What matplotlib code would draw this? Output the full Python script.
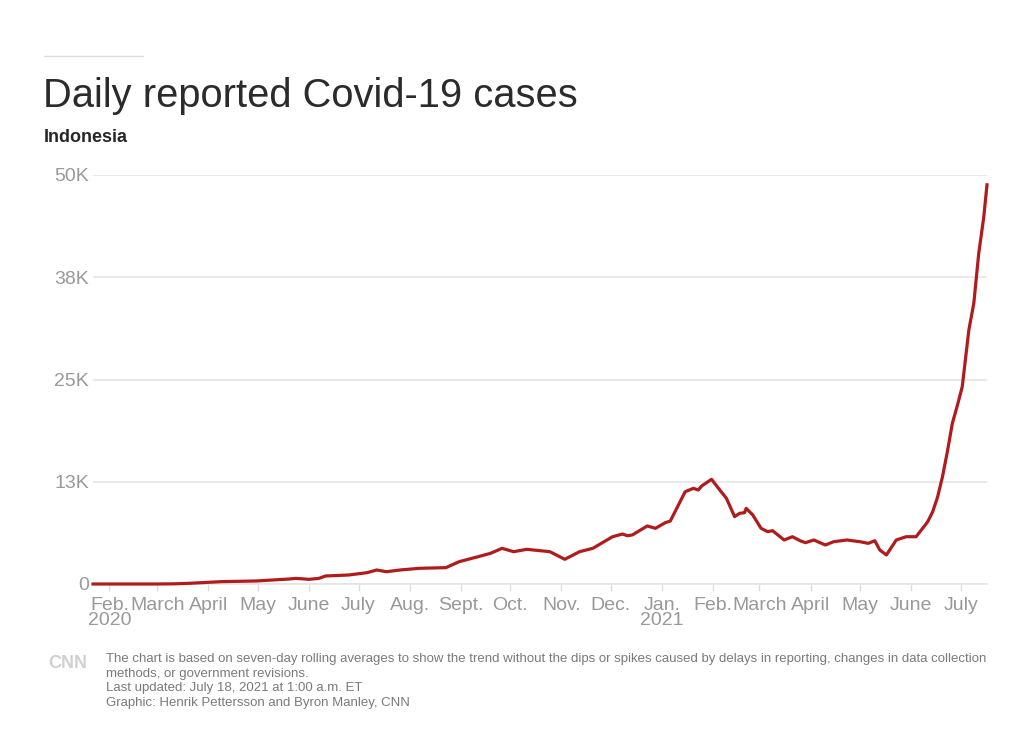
import matplotlib
matplotlib.use("Agg")
import matplotlib.pyplot as plt
import pandas as pd

# 7-day average of daily cases
dates = ["2020-01-22", "2020-02-29", "2020-03-11", "2020-03-20", "2020-04-09",
         "2020-04-30", "2020-05-20", "2020-05-24", "2020-06-01", "2020-06-07",
         "2020-06-11", "2020-06-25", "2020-07-06", "2020-07-12", "2020-07-18",
         "2020-07-26", "2020-08-07", "2020-08-23", "2020-08-31", "2020-09-13",
         "2020-09-19", "2020-09-26", "2020-10-03", "2020-10-11", "2020-10-25",
         "2020-11-03", "2020-11-12", "2020-11-20", "2020-12-02", "2020-12-08",
         "2020-12-11", "2020-12-14", "2020-12-23", "2020-12-28", "2021-01-03",
         "2021-01-06", "2021-01-15", "2021-01-20", "2021-01-23", "2021-01-25",
         "2021-01-31", "2021-02-05", "2021-02-09", "2021-02-14", "2021-02-17",
         "2021-02-20", "2021-02-21", "2021-02-25", "2021-03-02", "2021-03-06",
         "2021-03-09", "2021-03-16", "2021-03-21", "2021-03-26", "2021-03-29",
         "2021-04-03", "2021-04-10", "2021-04-15", "2021-04-23", "2021-05-01",
         "2021-05-06", "2021-05-10", "2021-05-13", "2021-05-17", "2021-05-23",
         "2021-05-29", "2021-06-04", "2021-06-08", "2021-06-11", "2021-06-14",
         "2021-06-17", "2021-06-20", "2021-06-23", "2021-06-26", "2021-06-29",
         "2021-07-02", "2021-07-06", "2021-07-09", "2021-07-12", "2021-07-15",
         "2021-07-17"]
cases = [0, 0, 20, 80, 290,
         370, 610, 690, 570, 690,
         980, 1100, 1380, 1710, 1500,
         1710, 1920, 2000, 2730, 3420,
         3750, 4360, 3950, 4240, 3950,
         3020, 3950, 4360, 5780, 6110,
         5900, 6000, 7090, 6810, 7500,
         7700, 11280, 11700, 11490, 11980,
         12800, 11490, 10480, 8230, 8640,
         8720, 9250, 8435, 6810, 6400,
         6520, 5380, 5780, 5260, 5050,
         5380, 4770, 5170, 5380, 5170,
         4970, 5290, 4160, 3550, 5380,
         5780, 5780, 6810, 7600, 8800,
         10600, 13100, 16200, 19650, 21800,
         24130, 31050, 34320, 40430, 44800,
         48800]

y_ticks = [0, 12500, 25000, 37500, 50000]
y_labels = ["0", "13K", "25K", "38K", "50K"]
month_labels = ["Feb.\n2020", "March", "April", "May", "June", "July", "Aug.",
                "Sept.", "Oct.", "Nov.", "Dec.", "Jan.\n2021", "Feb.", "March",
                "April", "May", "June", "July"]

plt.rcParams['font.family'] = ['Liberation Sans', 'DejaVu Sans']

fig = plt.figure(figsize=(10.25, 7.42), dpi=100)
ax = fig.add_axes([93 / 1025, 1 - 584 / 742, (987 - 93) / 1025, (584 - 175) / 742])

x = pd.to_datetime(dates)
ax.plot(x, cases, color='#b01c1c', linewidth=2.3, clip_on=False, zorder=3,
        solid_joinstyle='round')

ax.set_xlim(pd.Timestamp("2020-01-22"), pd.Timestamp("2021-07-17"))
ax.set_ylim(0, 50000)

ax.set_yticks(y_ticks)
ax.set_yticklabels(y_labels)
ax.grid(axis='y', color='#e3e3e3', linewidth=1.1)
ax.set_axisbelow(True)

month_ticks = pd.date_range("2020-02-01", "2021-07-01", freq="MS")
ax.set_xticks(month_ticks)
ax.set_xticklabels(month_labels, linespacing=0.85)

ax.tick_params(axis='y', length=0, pad=3, labelsize=14, labelcolor='#999999')
ax.tick_params(axis='x', length=5, width=1, color='#dddddd', pad=4,
               labelsize=14, labelcolor='#999999')

for s in ['top', 'right', 'left']:
    ax.spines[s].set_visible(False)
ax.spines['bottom'].set_color('#e3e3e3')
ax.spines['bottom'].set_linewidth(1.1)

# header
fig.add_artist(plt.Line2D([44 / 1025, 143 / 1025], [1 - 56 / 742, 1 - 56 / 742],
                          color='#dddddd', linewidth=1))
fig.text(43 / 1025, 1 - 96 / 742, "Daily reported Covid-19 cases", fontsize=28.7,
         color='#2b2b2b', va='center', ha='left')
fig.text(44 / 1025, 1 - 138 / 742, "Indonesia", fontsize=13, fontweight='bold',
         color='#262626', va='center', ha='left')

# footer
fig.text(68 / 1025, 1 - 664 / 742, "CNN", fontsize=13, fontweight='bold',
         color='#d0d0d0', va='center', ha='center')
notes = ["The chart is based on seven-day rolling averages to show the trend without the dips or spikes caused by delays in reporting, changes in data collection",
         "methods, or government revisions.",
         "Last updated: July 18, 2021 at 1:00 a.m. ET",
         "Graphic: Henrik Pettersson and Byron Manley, CNN"]
for i, line in enumerate(notes):
    fig.text(106 / 1025, 1 - (659 + i * 14.7) / 742, line, fontsize=9.5,
             color='#7a7a7a', va='center', ha='left')

fig.savefig("out.png", dpi=100, facecolor='white')
